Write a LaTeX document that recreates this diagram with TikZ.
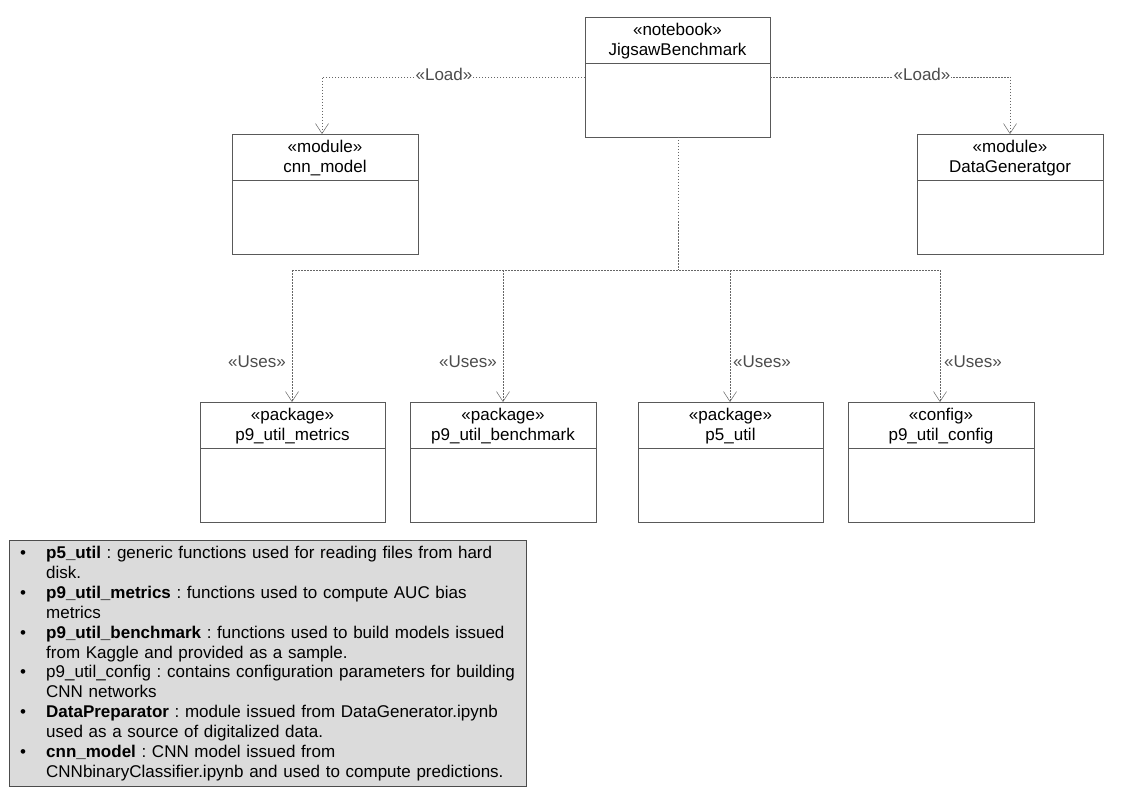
\documentclass[tikz,border=0pt]{standalone}
\usepackage{fontspec}
\setmainfont{Liberation Sans}
\usetikzlibrary{arrows.meta}
\begin{document}
\frenchspacing
\begin{tikzpicture}[x=1pt,y=-1pt,
  line/.style={draw=black!65, line width=0.6pt},
  dep/.style={draw=black!60, line width=0.6pt, dash pattern=on 1.5pt off 1.5pt},
  tip/.style={-{Straight Barb[length=10pt,width=13pt,line width=0.5pt]}},
  deplabel/.style={text=black!70, font=\fontsize{17}{19}\selectfont, inner sep=1pt},
  title/.style={font=\fontsize{17}{19.5}\selectfont, align=center, inner sep=0pt, anchor=north},
  notebox/.style={draw=black!70, line width=0.7pt, fill=black!14, anchor=north west,
      minimum width=517pt, minimum height=246pt, inner sep=0pt}
]
\useasboundingbox (0,0) rectangle (1123,794);
\fill[white] (0,0) rectangle (1123,794);

% class boxes: outer frame, compartment divider and stereotype/name
\newcommand{\umlbox}[6]{% name, x1, y1, x2, y2, text
  \coordinate (#1-nw) at (#2,#3);
  \coordinate (#1-se) at (#4,#5);
  \draw[line] (#2,#3) rectangle (#4,#5);
  \draw[line] (#2,#3+46) -- (#4,#3+46);
  \node[title] (#1) at ({(#2+#4)/2},#3+6) {#6};
}

\umlbox{jig}{585}{17}{770}{137}{«notebook»\\JigsawBenchmark}
\umlbox{cnn}{232}{134}{418}{254}{«module»\\cnn\_model}
\umlbox{dg}{917}{134}{1103}{254}{«module»\\DataGeneratgor}
\umlbox{met}{200}{402}{385}{522}{«package»\\p9\_util\_metrics}
\umlbox{bench}{410}{402}{596}{522}{«package»\\p9\_util\_benchmark}
\umlbox{p5}{638}{402}{823}{522}{«package»\\p5\_util}
\umlbox{cfg}{848}{402}{1034}{522}{«config»\\p9\_util\_config}

% load dependencies
\coordinate (jl) at (585,77);
\coordinate (jr) at (770,77);
\coordinate (cnnt) at (322,134);
\coordinate (dgt) at (1010,134);
\draw[dep,tip] (jl) -| (cnnt);
\draw[dep,tip] (jr) -| (dgt);
\node[deplabel,fill=white] (ll) at (444,74) {«Load»};
\node[deplabel,fill=white] (lr) at (922,74) {«Load»};

% uses dependencies
\coordinate (jb) at (678,137);
\coordinate (bus) at (678,270);
\coordinate (metT) at (292,402);
\coordinate (benchT) at (503,402);
\coordinate (p5T) at (730,402);
\coordinate (cfgT) at (940,402);
\draw[dep] (jb) -- (bus);
\draw[dep] (292,270) -- (940,270);
\draw[dep,tip] (metT |- bus) -- (metT);
\draw[dep,tip] (benchT |- bus) -- (benchT);
\draw[dep,tip] (p5T |- bus) -- (p5T);
\draw[dep,tip] (cfgT |- bus) -- (cfgT);
\node[deplabel,anchor=east] (u1) at (287,362) {«Uses»};
\node[deplabel,anchor=east] (u2) at (498,362) {«Uses»};
\node[deplabel,anchor=west] (u3) at (732,362) {«Uses»};
\node[deplabel,anchor=west] (u4) at (943,362) {«Uses»};

% legend note: shaded frame, then bulleted items with a hanging indent
\newcommand{\itm}[1]{\noindent\hangindent=26pt\hangafter=1\makebox[26pt][l]{•}#1\par}
\node[notebox] (note) at (9,540) {};
\node[anchor=north west, inner sep=0pt, text width=505pt,
      font=\fontsize{17}{19.9}\selectfont] (notetext) at (20,546) {%
\hyphenpenalty=10000\exhyphenpenalty=10000\raggedright
\itm{\textbf{p5\_util} : generic functions used for reading files from hard\newline disk.}%
\itm{\textbf{p9\_util\_metrics} : functions used to compute AUC bias\newline metrics}%
\itm{\textbf{p9\_util\_benchmark} : functions used to build models issued\newline from Kaggle and provided as a sample.}%
\itm{p9\_util\_config : contains configuration parameters for building\newline CNN networks}%
\itm{\textbf{DataPreparator} : module issued from DataGenerator.ipynb\newline used as a source of digitalized data.}%
\itm{\textbf{cnn\_model} : CNN model issued from\newline CNNbinaryClassifier.ipynb and used to compute predictions.}%
};
\end{tikzpicture}
\end{document}
